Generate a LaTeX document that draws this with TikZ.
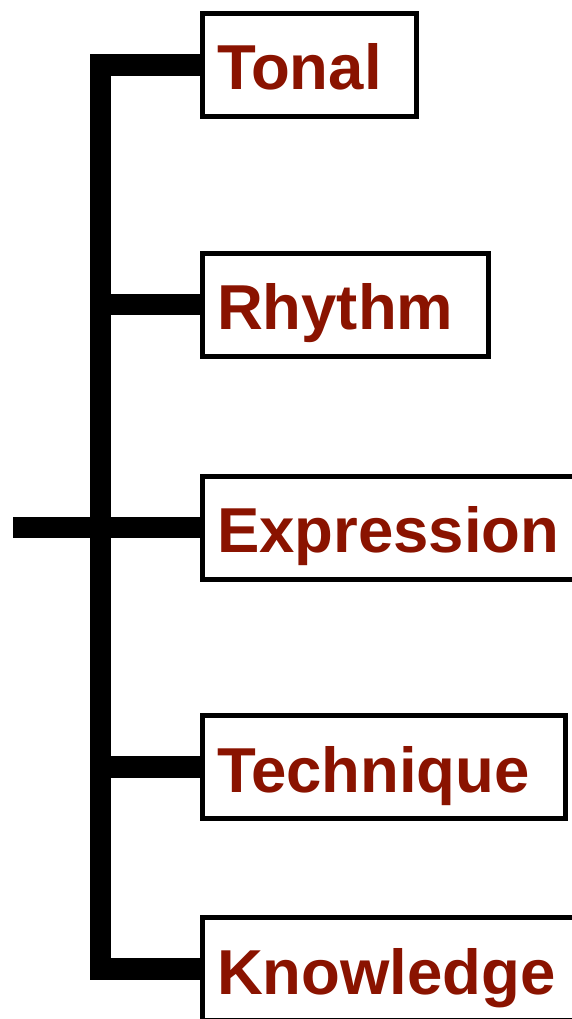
\documentclass[tikz,border=0pt]{standalone}
\usepackage{fontspec}
\setmainfont{Liberation Sans}
\definecolor{labelred}{HTML}{8A1300}
\pgfdeclarelayer{background}
\pgfsetlayers{background,main}
\begin{document}
\begin{tikzpicture}[x=1pt,y=-1pt,
  bar/.style={line width=21.5pt, line join=miter, line cap=butt},
  item/.style={draw, line width=5pt, fill=white, anchor=west,
    minimum height=103pt, inner xsep=14.5pt, inner ysep=0pt,
    text width=#1-29pt, align=left, text height=63pt, text depth=13pt,
    font=\fontsize{63.5}{63.5}\selectfont\bfseries, text=labelred}]
  \clip (0,0) rectangle (572,1019);
  % spine position and free end of the root stub
  \coordinate (spine) at (100.5,0);
  \coordinate (root) at (13,527.5);

  \node[item=214pt] (tonal)      at (200,65)    {Tonal};
  \node[item=286pt] (rhythm)     at (200,304.5) {Rhythm};
  \node[item=392pt] (expression) at (200,527.5) {Expression};
  \node[item=363pt] (technique)  at (200,767)   {Technique};
  \node[item=392pt] (knowledge)  at (200,969)   {Knowledge};

  % bracket joining the boxes, kept behind them
  \begin{pgfonlayer}{background}
    \draw[bar] (tonal.west) -- (tonal.west -| spine)
               -- (knowledge.west -| spine) -- (knowledge.west);
    \draw[bar] (rhythm.west -| spine) -- (rhythm.west);
    \draw[bar] (technique.west -| spine) -- (technique.west);
    \draw[bar] (root) -- (expression.west);
  \end{pgfonlayer}
\end{tikzpicture}
\end{document}
